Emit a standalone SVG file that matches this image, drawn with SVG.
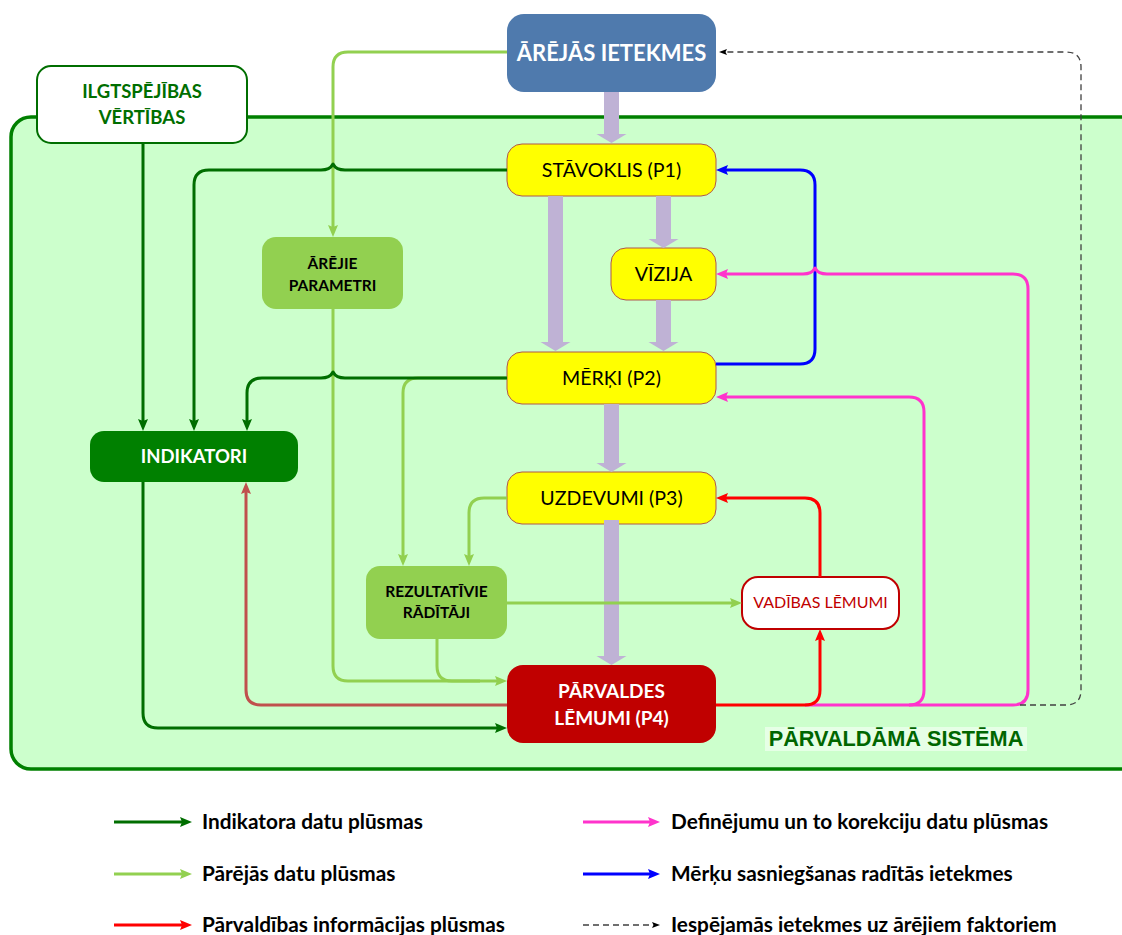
<svg xmlns="http://www.w3.org/2000/svg" width="1122" height="935" viewBox="0 0 1122 935">
  <style>
    .lbl { font-family: Lato, "Liberation Sans", sans-serif; text-anchor: middle; }
    .b { font-weight: bold; }
    .yel { fill: #ffff00; stroke: #b0564d; stroke-width: 1; }
    .ln { fill: none; stroke-width: 3; stroke-linejoin: round; }
    .dg { stroke: #006e00; }
    .lg { stroke: #92d050; }
    .rd { stroke: #ff0000; }
    .br { stroke: #c0504d; }
    .pk { stroke: #ff33cc; }
    .bl { stroke: #0000ff; }
    .ds { fill: none; stroke: #404040; stroke-width: 1.3; stroke-dasharray: 6 4; }
    .lav { fill: #bfb2d5; }
    .leg { font-family: Lato, "Liberation Sans", sans-serif; font-weight: bold; font-size: 20.8px; fill: #000; }
  </style>
  <defs>
    <marker id="aDG" viewBox="0 0 12 10" markerWidth="12" markerHeight="10" refX="2" refY="5" orient="auto" markerUnits="userSpaceOnUse"><path d="M0,0 L12,5 L0,10 L2,5 z" fill="#006e00"/></marker>
    <marker id="aLG" viewBox="0 0 12 10" markerWidth="12" markerHeight="10" refX="2" refY="5" orient="auto" markerUnits="userSpaceOnUse"><path d="M0,0 L12,5 L0,10 L2,5 z" fill="#92d050"/></marker>
    <marker id="aRD" viewBox="0 0 12 10" markerWidth="12" markerHeight="10" refX="2" refY="5" orient="auto" markerUnits="userSpaceOnUse"><path d="M0,0 L12,5 L0,10 L2,5 z" fill="#ff0000"/></marker>
    <marker id="aBR" viewBox="0 0 12 10" markerWidth="12" markerHeight="10" refX="2" refY="5" orient="auto" markerUnits="userSpaceOnUse"><path d="M0,0 L12,5 L0,10 L2,5 z" fill="#c0504d"/></marker>
    <marker id="aPK" viewBox="0 0 12 10" markerWidth="12" markerHeight="10" refX="2" refY="5" orient="auto" markerUnits="userSpaceOnUse"><path d="M0,0 L12,5 L0,10 L2,5 z" fill="#ff33cc"/></marker>
    <marker id="aBL" viewBox="0 0 12 10" markerWidth="12" markerHeight="10" refX="2" refY="5" orient="auto" markerUnits="userSpaceOnUse"><path d="M0,0 L12,5 L0,10 L2,5 z" fill="#0000ff"/></marker>
    <marker id="aDS" viewBox="0 0 8 6" markerWidth="8" markerHeight="6" refX="1" refY="3" orient="auto" markerUnits="userSpaceOnUse"><path d="M0,0 L8,3 L0,6 L1.5,3 z" fill="#000"/></marker>
  </defs>

  <rect width="1122" height="935" fill="#ffffff"/>

  <!-- managed system area -->
  <g id="system">
    <rect x="11" y="117" width="1130" height="652" rx="20" fill="#ccffcc" stroke="#008000" stroke-width="3.5"/>
    <rect x="765" y="727" width="262" height="24" fill="#e6ffe6"/>
    <text x="896" y="746" font-family="'Liberation Sans', Arial, sans-serif" font-weight="bold" font-size="21.7" fill="#006600" text-anchor="middle">PĀRVALDĀMĀ SISTĒMA</text>
  </g>

  <!-- nodes -->
  <g id="arejas-ietekmes">
    <rect x="507" y="14" width="209" height="78" rx="17" fill="#4f7aad"/>
    <text class="lbl b" x="611.5" y="61" font-size="22" fill="#ffffff">ĀRĒJĀS IETEKMES</text>
  </g>
  <g id="ilgtspejibas-vertibas">
    <rect x="37" y="66" width="210" height="77" rx="14" fill="#ffffff" stroke="#006e00" stroke-width="2"/>
    <text class="lbl b" x="142" y="98" font-size="18.5" fill="#006e00">ILGTSPĒJĪBAS</text>
    <text class="lbl b" x="142" y="124" font-size="18.5" fill="#006e00">VĒRTĪBAS</text>
  </g>
  <g id="stavoklis">
    <rect class="yel" x="507" y="144" width="209" height="52" rx="15"/>
    <text class="lbl" x="611.5" y="177" font-size="19.6">STĀVOKLIS (P1)</text>
  </g>
  <g id="vizija">
    <rect class="yel" x="611" y="248" width="105" height="52" rx="15"/>
    <text class="lbl" x="663.5" y="281" font-size="19.6">VĪZIJA</text>
  </g>
  <g id="merki">
    <rect class="yel" x="507" y="352" width="209" height="52" rx="15"/>
    <text class="lbl" x="611.5" y="385" font-size="19.6">MĒRĶI (P2)</text>
  </g>
  <g id="uzdevumi">
    <rect class="yel" x="507" y="472" width="209" height="52" rx="15"/>
    <text class="lbl" x="611.5" y="505" font-size="19.6">UZDEVUMI (P3)</text>
  </g>
  <g id="arejie-parametri">
    <rect x="262" y="237" width="141" height="72" rx="14" fill="#92d050"/>
    <text class="lbl b" x="332.5" y="269" font-size="15.5">ĀRĒJIE</text>
    <text class="lbl b" x="332.5" y="291" font-size="15.5">PARAMETRI</text>
  </g>
  <g id="indikatori">
    <rect x="90" y="431" width="208" height="51" rx="14" fill="#008000"/>
    <text class="lbl b" x="194" y="463" font-size="18.5" fill="#ffffff">INDIKATORI</text>
  </g>
  <g id="rezultativie-raditaji">
    <rect x="366" y="566" width="141" height="73" rx="14" fill="#92d050"/>
    <text class="lbl b" x="436.5" y="597" font-size="15.5">REZULTATĪVIE</text>
    <text class="lbl b" x="436.5" y="618" font-size="15.5">RĀDĪTĀJI</text>
  </g>
  <g id="vadibas-lemumi">
    <rect x="742" y="577" width="157" height="52" rx="16" fill="#ffffff" stroke="#c00000" stroke-width="2"/>
    <text class="lbl" x="820.5" y="608" font-size="16" fill="#c00000">VADĪBAS LĒMUMI</text>
  </g>
  <g id="parvaldes-lemumi">
    <rect x="507" y="665" width="209" height="78" rx="16" fill="#c00000"/>
    <text class="lbl b" x="611.5" y="698" font-size="19" fill="#ffffff">PĀRVALDES</text>
    <text class="lbl b" x="611.5" y="725" font-size="19" fill="#ffffff">LĒMUMI (P4)</text>
  </g>

  <!-- connectors -->
  <g id="connectors">
    <!-- main process flow (broad arrows) -->
    <path class="lav" d="M604,92 L619,92 L619,134 L626.5,134 L611.5,143 L596.5,134 L604,134 Z"/>
    <path class="lav" d="M548,196 L563,196 L563,342 L570.5,342 L555.5,351 L540.5,342 L548,342 Z"/>
    <path class="lav" d="M656,196 L671,196 L671,239 L678.5,239 L663.5,248 L648.5,239 L656,239 Z"/>
    <path class="lav" d="M656,300 L671,300 L671,342 L678.5,342 L663.5,351 L648.5,342 L656,342 Z"/>
    <path class="lav" d="M604,404 L619,404 L619,463 L626.5,463 L611.5,472 L596.5,463 L604,463 Z"/>
    <path class="lav" d="M604,520 L619,520 L619,656 L626.5,656 L611.5,665 L596.5,656 L604,656 Z"/>

    <!-- other data flows -->
    <path class="ln lg" d="M507,52 L348,52 Q333,52 333,67 L333,227" marker-end="url(#aLG)"/>
    <path class="ln lg" d="M333,309 L333,666 Q333,681 348,681 L497,681" marker-end="url(#aLG)"/>
    <path class="ln lg" d="M437,639 L437,666 Q437,681 452,681 L480,681"/>
    <path class="ln lg" d="M507,378 L418,378 Q403,378 403,393 L403,556" marker-end="url(#aLG)"/>
    <path class="ln lg" d="M507,498 L484,498 Q469,498 469,513 L469,556" marker-end="url(#aLG)"/>
    <path class="ln lg" d="M507,603 L732,603" marker-end="url(#aLG)"/>

    <!-- indicator data flows -->
    <path class="ln dg" d="M143,143 L143,421" marker-end="url(#aDG)"/>
    <path class="ln dg" d="M143,482 L143,713 Q143,728 158,728 L497,728" marker-end="url(#aDG)"/>
    <path class="ln dg" d="M507,170 L345,170 C339,170 335,168 333,164 C331,168 327,170 321,170 L209,170 Q194,170 194,185 L194,421" marker-end="url(#aDG)"/>
    <path class="ln dg" d="M507,378 L345,378 C339,378 335,376 333,372 C331,376 327,378 321,378 L262,378 Q247,378 247,393 L247,421" marker-end="url(#aDG)"/>

    <!-- management information flows -->
    <path class="ln br" d="M507,705 L261,705 Q246,705 246,690 L246,492" marker-end="url(#aBR)"/>

    <!-- goal achievement effects -->
    <path class="ln bl" d="M716,364 L800,364 Q815,364 815,349 L815,185 Q815,170 800,170 L726,170" marker-end="url(#aBL)"/>

    <!-- definition and correction flows -->
    <path class="ln pk" d="M805,705 L909,705 Q924,705 924,690 L924,412 Q924,397 909,397 L726,397" marker-end="url(#aPK)"/>
    <path class="ln pk" d="M909,705 L1013,705 Q1028,705 1028,690 L1028,289 Q1028,274 1013,274 L827,274 C821,274 817,272 815,268 C813,272 809,274 803,274 L726,274" marker-end="url(#aPK)"/>

    <path class="ln rd" d="M716,705 L805,705 Q820,705 820,690 L820,639" marker-end="url(#aRD)"/>
    <path class="ln rd" d="M820,577 L820,513 Q820,498 805,498 L726,498" marker-end="url(#aRD)"/>

    <!-- possible effects on external factors -->
    <path class="ds" d="M1020,705 L1066,705 Q1081,705 1081,690 L1081,67 Q1081,52 1066,52 L726,52" marker-end="url(#aDS)"/>
  </g>

  <!-- legend -->
  <g id="legend">
    <path class="ln dg" d="M114,822 L182,822" marker-end="url(#aDG)"/>
    <text class="leg" x="202" y="829">Indikatora datu plūsmas</text>
    <path class="ln lg" d="M114,874 L182,874" marker-end="url(#aLG)"/>
    <text class="leg" x="202" y="881">Pārējās datu plūsmas</text>
    <path class="ln rd" d="M114,925 L182,925" marker-end="url(#aRD)"/>
    <text class="leg" x="202" y="932">Pārvaldības informācijas plūsmas</text>

    <path class="ln pk" d="M583,822 L650,822" marker-end="url(#aPK)"/>
    <text class="leg" x="671" y="829">Definējumu un to korekciju datu plūsmas</text>
    <path class="ln bl" d="M583,874 L650,874" marker-end="url(#aBL)"/>
    <text class="leg" x="671" y="881">Mērķu sasniegšanas radītās ietekmes</text>
    <path class="ds" d="M583,925 L653,925" marker-end="url(#aDS)"/>
    <text class="leg" x="671" y="932">Iespējamās ietekmes uz ārējiem faktoriem</text>
  </g>
</svg>
